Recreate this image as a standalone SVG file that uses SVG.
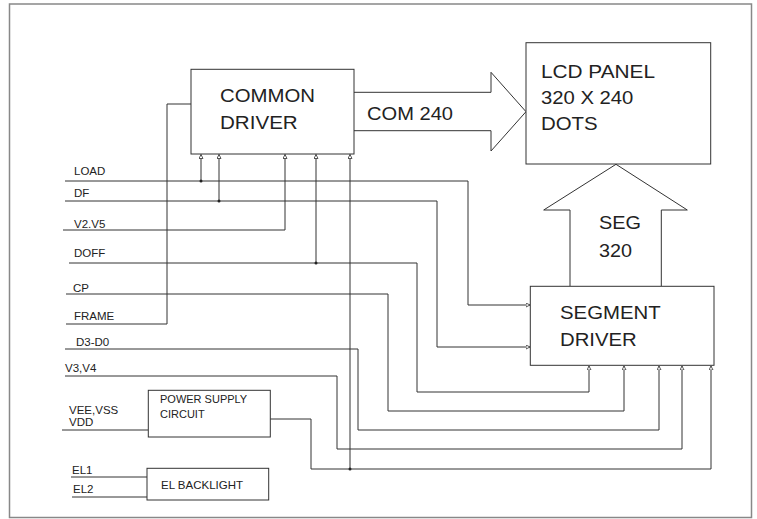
<svg xmlns="http://www.w3.org/2000/svg" width="757" height="519" viewBox="0 0 757 519">
<style>
.box{fill:#fff;stroke:#333;stroke-width:1}
.big{font-family:"Liberation Sans",Arial,sans-serif;font-size:18px;fill:#222}
.sm{font-family:"Liberation Sans",Arial,sans-serif;font-size:11.5px;fill:#222}
.ps{font-family:"Liberation Sans",Arial,sans-serif;font-size:11px;fill:#222}
.w{fill:none;stroke:#333;stroke-width:1}
.a{fill:none;stroke:#333;stroke-width:1;marker-end:url(#ah)}
.dot{fill:#222}
</style>
<defs>
<marker id="ah" markerUnits="userSpaceOnUse" markerWidth="5" markerHeight="5" refX="4" refY="2.5" orient="auto">
<path d="M0,0.5 L4,2.5 L0,4.5 Z" fill="#fff" stroke="#333" stroke-width="0.8"/>
</marker>
</defs>
<rect x="9.5" y="4" width="742" height="513.5" fill="#fff" stroke="#888" stroke-width="1.5"/>

<g id="connectors">
<path class="w" d="M66,324 H167 V104 H191"/>
<path class="a" d="M65,181 H468 V305 H530"/>
<path class="a" d="M201,181 V154.5"/>
<path class="a" d="M65,201 H437 V347 H530"/>
<path class="a" d="M219,201 V154.5"/>
<path class="a" d="M63,230 H285 V154.5"/>
<path class="a" d="M69,263 H417 V392 H589 V366"/>
<path class="a" d="M316,263 V154.5"/>
<path class="a" d="M66,294 H388 V411 H624 V366"/>
<path class="a" d="M65,349 H358 V430 H659 V366"/>
<path class="a" d="M65,376 H337 V449 H682 V366"/>
<path class="a" d="M270,419 H311 V469 H711 V366"/>
<path class="a" d="M350,469 V154.5"/>
<path class="w" d="M62,430 H148"/>
<path class="w" d="M71,477 H147"/>
<path class="w" d="M72,497 H147"/>
<circle class="dot" cx="201" cy="181" r="1.5"/>
<circle class="dot" cx="219" cy="201" r="1.5"/>
<circle class="dot" cx="316" cy="263" r="1.5"/>
<circle class="dot" cx="350" cy="469" r="1.5"/>
<path class="box" d="M354,92.3 H491 V72.3 L526,111.7 L491,151 V130.7 H354"/>
<path class="box" d="M570,286 V210 H543.7 L616,164.3 L687.3,210 H661.3 V286"/>
<text class="big" x="367" y="119.5" textLength="86" lengthAdjust="spacingAndGlyphs">COM 240</text>
<text class="big" x="599" y="229" textLength="42" lengthAdjust="spacingAndGlyphs">SEG</text>
<text class="big" x="599" y="256.5" textLength="33" lengthAdjust="spacingAndGlyphs">320</text>
</g>

<g id="labels">
<text class="sm" x="74" y="174.7">LOAD</text>
<text class="sm" x="74" y="196.7">DF</text>
<text class="sm" x="74" y="228.3">V2.V5</text>
<text class="sm" x="74" y="257.3">DOFF</text>
<text class="sm" x="73" y="291.7">CP</text>
<text class="sm" x="74" y="320">FRAME</text>
<text class="sm" x="76" y="345.7">D3-D0</text>
<text class="sm" x="65" y="371.7">V3,V4</text>
<text class="sm" x="69" y="414">VEE,VSS</text>
<text class="sm" x="69" y="425.7">VDD</text>
<text class="sm" x="72" y="473.7">EL1</text>
<text class="sm" x="73" y="493">EL2</text>
</g>

<g id="common-driver">
<rect class="box" x="191" y="69.3" width="163" height="84.7"/>
<text class="big" x="220" y="101.7" textLength="95" lengthAdjust="spacingAndGlyphs">COMMON</text>
<text class="big" x="220" y="129" textLength="77.7" lengthAdjust="spacingAndGlyphs">DRIVER</text>
</g>

<g id="lcd-panel">
<rect class="box" x="526" y="42.7" width="184.7" height="121.3"/>
<text class="big" x="541" y="78" textLength="114" lengthAdjust="spacingAndGlyphs">LCD PANEL</text>
<text class="big" x="541" y="104" textLength="92.3" lengthAdjust="spacingAndGlyphs">320 X 240</text>
<text class="big" x="541" y="130" textLength="56.7" lengthAdjust="spacingAndGlyphs">DOTS</text>
</g>

<g id="segment-driver">
<rect class="box" x="530.3" y="286.3" width="183.7" height="79"/>
<text class="big" x="560" y="319" textLength="100.7" lengthAdjust="spacingAndGlyphs">SEGMENT</text>
<text class="big" x="560" y="345.7" textLength="76.7" lengthAdjust="spacingAndGlyphs">DRIVER</text>
</g>

<g id="power-supply">
<rect class="box" x="148.3" y="390.3" width="122" height="46.7"/>
<text class="ps" x="160" y="402.7">POWER SUPPLY</text>
<text class="ps" x="160" y="417.7">CIRCUIT</text>
</g>

<g id="el-backlight">
<rect class="box" x="147" y="468.3" width="121.7" height="31.7"/>
<text class="sm" x="161" y="489">EL BACKLIGHT</text>
</g>
</svg>
